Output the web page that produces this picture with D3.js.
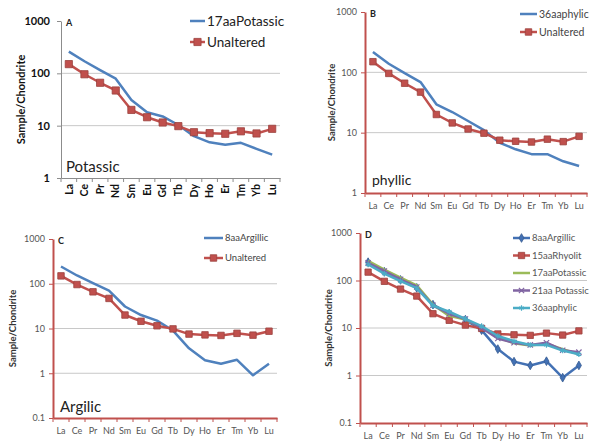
<!DOCTYPE html>
<html>
<head>
<meta charset="utf-8">
<script src="https://cdn.jsdelivr.net/npm/d3@7"></script>
<style>
  body { margin: 0; background: #fff; }
  svg { display: block; }
  text { font-family: Lato, "Open Sans", sans-serif; }
</style>
</head>
<body>
<div id="chart"></div>
<script>
// REE categories along the x axis
const elements = ["La", "Ce", "Pr", "Nd", "Sm", "Eu", "Gd", "Tb", "Dy", "Ho", "Er", "Tm", "Yb", "Lu"];

// chondrite-normalised values
const unaltered   = [150, 96, 66, 47, 20, 14.5, 11.5, 9.8, 7.5, 7.2, 7.0, 7.8, 7.1, 8.7];
const potassic17  = [260, 170, 115, 79, 31, 18, 15, 10.3, 6.3, 4.8, 4.3, 4.7, 3.6, 2.8];
const phylic36    = [217, 139, 97, 69, 29.5, 22, 15.6, 11, 6.8, 5.3, 4.4, 4.4, 3.35, 2.8];
const argillic8   = [243, 153, 103, 70, 31, 20, 15, 9, 3.6, 1.96, 1.63, 2.0, 0.9, 1.63];
const potassic21  = [235, 158, 106, 73, 30, 20, 15.5, 10, 6.0, 4.9, 4.4, 4.9, 3.4, 3.1];

const ticksA = [1, 10, 100, 1000];
const ticksC = [0.1, 1, 10, 100, 1000];

const width = 610, height = 445;
const red = "#c0504d";

const svg = d3.select("#chart")
    .append("svg")
    .attr("width", width)
    .attr("height", height);

/* panel settings */
const panels = [
    {
        letter: "A", name: "Potassic", x0: 61, x1: 280, yTop: 21, yBot: 178, domain: [1, 1000], ticks: ticksA,
        axisColor: "#8c8c8c", bold: true, rotate: true, tickX: 50, ylabX: 21, tickFont: 11,
        nameX: 66, nameY: 172, nameSize: 15,
        legend: { x: 190, y: 21, dy: 21, len: 15, font: 13.5, color: "#222" },
        series: [
            { name: "17aaPotassic", values: potassic17, color: "#4f81bd" },
            { name: "Unaltered", values: unaltered, color: red, marker: "square", size: 52 }
        ]
    },
    {
        letter: "B", name: "phyllic", x0: 365, x1: 587, yTop: 12, yBot: 193, domain: [1, 1000], ticks: ticksA,
        axisColor: red, bold: false, rotate: false, tickX: 357, ylabX: 332, tickFont: 9,
        nameX: 372, nameY: 185, nameSize: 14,
        legend: { x: 520, y: 14, dy: 18, len: 17, font: 10.5, color: "#444" },
        series: [
            { name: "36aaphylic", values: phylic36, color: "#4f81bd" },
            { name: "Unaltered", values: unaltered, color: red, marker: "square", size: 42 }
        ]
    },
    {
        letter: "C", name: "Argilic", x0: 53, x1: 277, yTop: 239, yBot: 418, domain: [0.1, 1000], ticks: ticksC,
        axisColor: red, bold: false, rotate: false, tickX: 45, ylabX: 13, tickFont: 9,
        nameX: 60, nameY: 412, nameSize: 15,
        legend: { x: 204, y: 238, dy: 20, len: 19, font: 9.5, color: "#444" },
        series: [
            { name: "8aaArgillic", values: argillic8, color: "#4f81bd" },
            { name: "Unaltered", values: unaltered, color: red, marker: "square", size: 42 }
        ]
    },
    {
        letter: "D", name: "", x0: 360, x1: 587, yTop: 233, yBot: 423, domain: [0.1, 1000], ticks: ticksC,
        axisColor: red, bold: false, rotate: false, tickX: 352, ylabX: 329, tickFont: 9,
        legend: { x: 513, y: 238, dy: 17.5, len: 17, font: 9.5, color: "#555" },
        series: [
            { name: "8aaArgillic", values: argillic8, color: "#4371b4", marker: "diamond", size: 22 },
            { name: "15aaRhyolit", values: unaltered, color: red, marker: "square", size: 40 },
            { name: "17aaPotassic", values: potassic17, color: "#9bbb59" },
            { name: "21aa Potassic", values: potassic21, color: "#8064a2", marker: "times", size: 20 },
            { name: "36aaphylic", values: phylic36, color: "#4bacc6", marker: "asterisk", size: 20 }
        ]
    }
];

const symbols = {
    square: d3.symbolSquare,
    diamond: d3.symbolDiamond,
    times: d3.symbolTimes,
    asterisk: d3.symbolAsterisk
};

function drawMarker(g, s, x, y) {
    const stroked = s.marker === "times" || s.marker === "asterisk";
    g.append("path")
        .attr("transform", `translate(${x},${y})`)
        .attr("d", d3.symbol().type(symbols[s.marker]).size(s.size)())
        .attr("fill", stroked ? "none" : s.color)
        .attr("stroke", stroked ? s.color : d3.color(s.color).darker(0.6))
        .attr("stroke-width", stroked ? 1.2 : 0.8);
}

panels.forEach(p => {
    const g = svg.append("g");

    const xScale = d3.scaleBand()
        .domain(elements)
        .range([p.x0, p.x1])
        .padding(0);
    const xc = d => xScale(d) + xScale.bandwidth() / 2;

    const yScale = d3.scaleLog()
        .domain(p.domain)
        .range([p.yBot, p.yTop]);

    // gridlines
    g.selectAll(".grid")
        .data(p.ticks.filter(t => t !== p.domain[0] && t !== p.domain[1]))
        .join("line")
        .attr("x1", p.x0).attr("x2", p.x1)
        .attr("y1", d => yScale(d)).attr("y2", d => yScale(d))
        .attr("stroke", "#c8c8c8")
        .attr("stroke-width", 1);

    // y axis
    const yAxis = g.append("g")
        .attr("transform", `translate(${p.x0},0)`)
        .call(d3.axisLeft(yScale).tickValues(p.ticks).tickFormat(d => d).tickSize(4).tickSizeOuter(0));
    yAxis.select(".domain").attr("stroke", p.axisColor).attr("stroke-width", p.bold ? 1 : 2);
    yAxis.selectAll(".tick line").attr("stroke", p.axisColor);
    yAxis.selectAll(".tick text")
        .attr("x", p.tickX - p.x0)
        .attr("fill", p.bold ? "#111" : "#555")
        .attr("font-weight", p.bold ? "bold" : "normal")
        .attr("font-size", p.tickFont)
        .attr("font-family", "Lato, sans-serif");

    // x axis with ticks between categories
    const xAxis = g.append("g")
        .attr("transform", `translate(0,${p.yBot})`)
        .call(d3.axisBottom(xScale).tickSize(0).tickSizeOuter(0));
    xAxis.select(".domain").attr("stroke", p.axisColor).attr("stroke-width", p.bold ? 1 : 2);
    xAxis.selectAll(".tick text")
        .attr("font-size", p.bold ? 10.5 : 9)
        .attr("font-weight", p.bold ? "bold" : "normal")
        .attr("fill", p.bold ? "#111" : "#555")
        .attr("font-family", "Lato, sans-serif");
    if (p.rotate) {
        xAxis.selectAll(".tick text")
            .attr("transform", "rotate(-90)")
            .attr("text-anchor", "end")
            .attr("x", -6)
            .attr("y", 0)
            .attr("dy", "0.35em");
    } else {
        xAxis.selectAll(".tick text").attr("y", 10);
    }
    g.selectAll(".xtick")
        .data(elements.concat(["end"]))
        .join("line")
        .attr("x1", (d, i) => i < elements.length ? xScale(d) : p.x1)
        .attr("x2", (d, i) => i < elements.length ? xScale(d) : p.x1)
        .attr("y1", p.yBot)
        .attr("y2", p.yBot + 4)
        .attr("stroke", p.axisColor);

    // y axis label
    g.append("text")
        .attr("transform", `translate(${p.ylabX},${(p.yTop + p.yBot) / 2}) rotate(-90)`)
        .attr("text-anchor", "middle")
        .attr("dy", "0.35em")
        .attr("font-size", p.bold ? 11 : 9.5)
        .attr("font-weight", "bold")
        .attr("fill", p.bold ? "#111" : "#333")
        .text("Sample/Chondrite");

    // series lines
    const line = d3.line()
        .x((d, i) => xc(elements[i]))
        .y(d => yScale(d));

    p.series.forEach(s => {
        g.append("path")
            .datum(s.values)
            .attr("d", line)
            .attr("fill", "none")
            .attr("stroke", s.color)
            .attr("stroke-width", 2.5)
            .attr("stroke-linejoin", "round");
        if (s.marker) {
            s.values.forEach((v, i) => drawMarker(g, s, xc(elements[i]), yScale(v)));
        }
    });

    // panel letter
    g.append("text")
        .attr("x", p.x0 + 5)
        .attr("y", p.yTop + 5)
        .attr("font-family", "'Liberation Serif', serif")
        .attr("font-weight", "bold")
        .attr("font-size", 9)
        .attr("fill", "#222")
        .text(p.letter);

    // alteration name inside the plot
    if (p.name) {
        g.append("text")
            .attr("x", p.nameX)
            .attr("y", p.nameY)
            .attr("font-size", p.nameSize)
            .attr("fill", "#222")
            .text(p.name);
    }

    // legend
    const L = p.legend;
    p.series.forEach((s, i) => {
        const ly = L.y + i * L.dy;
        g.append("line")
            .attr("x1", L.x).attr("x2", L.x + L.len)
            .attr("y1", ly).attr("y2", ly)
            .attr("stroke", s.color)
            .attr("stroke-width", 2.5);
        if (s.marker) drawMarker(g, s, L.x + L.len / 2, ly);
        g.append("text")
            .attr("x", L.x + L.len + 2)
            .attr("y", ly)
            .attr("dy", "0.35em")
            .attr("font-size", L.font)
            .attr("fill", L.color)
            .text(s.name);
    });
});
</script>
</body>
</html>
